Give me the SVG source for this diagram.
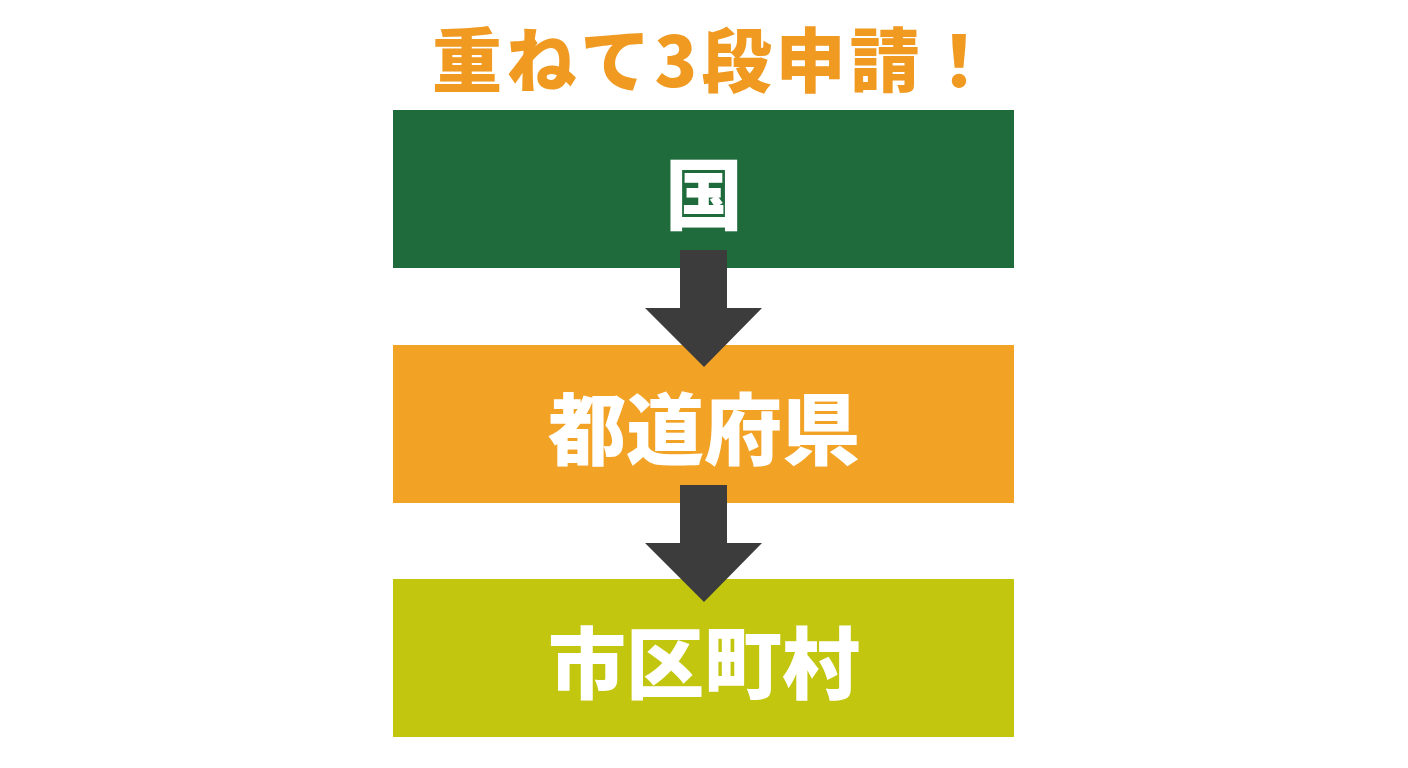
<svg xmlns="http://www.w3.org/2000/svg" width="1408" height="768" viewBox="0 0 1408 768">
<style>
.t{font-family:"Noto Sans CJK JP","Noto Sans CJK SC",sans-serif;font-weight:900;text-anchor:middle;dominant-baseline:central}
.title{fill:#F09A22;font-size:70px}
.lbl{fill:#FFFFFF;font-size:78px}
.arr{fill:#3C3C3C}
</style>
<rect width="1408" height="768" fill="#FFFFFF"/>
<g id="title"><text class="t title" x="713" y="56" textLength="562" lengthAdjust="spacing">重ねて3段申請！</text></g>
<g id="node-kuni"><rect x="393" y="110" width="621" height="158" fill="#1F6B3C"/><text class="t lbl" x="704" y="190">国</text></g>
<g id="node-todofuken"><rect x="393" y="345" width="621" height="158" fill="#F2A225"/><text class="t lbl" x="704" y="425">都道府県</text></g>
<g id="node-shikuchoson"><rect x="393" y="579" width="621" height="158" fill="#C2C60E"/><text class="t lbl" x="704" y="659">市区町村</text></g>
<g id="connectors">
<polygon class="arr" points="680,250 727,250 727,308 762,308 704,367 645,308 680,308"/>
<polygon class="arr" points="680,485 727,485 727,543 762,543 704,602 645,543 680,543"/>
</g>
</svg>
